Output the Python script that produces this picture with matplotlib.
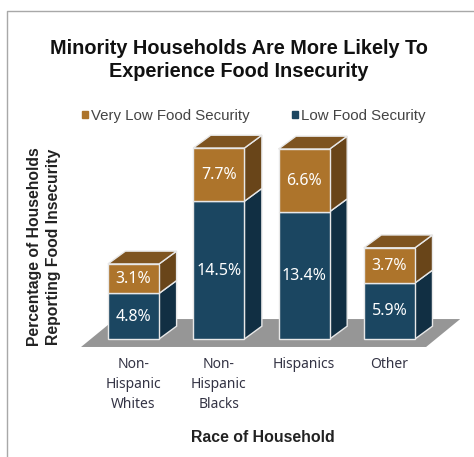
import matplotlib
matplotlib.use("Agg")
import matplotlib.pyplot as plt
from matplotlib.lines import Line2D
from matplotlib.patches import Patch

categories = ["Non-\nHispanic\nWhites", "Non-\nHispanic\nBlacks", "Hispanics", "Other"]
low_values = [4.8, 14.5, 13.4, 5.9]
# drawn height of the top block, the Blacks block is shorter than its label says
very_low_values = [3.1, 5.6, 6.6, 3.7]
low_labels = ["4.8%", "14.5%", "13.4%", "5.9%"]
very_low_labels = ["3.1%", "7.7%", "6.6%", "3.7%"]

W, H = 474, 457
ORANGE = "#AD742B"
ORANGE_TOP = "#7E5420"
ORANGE_SIDE = "#694519"
BLUE = "#1B4661"
BLUE_SIDE = "#112F43"
FLOOR = "#969696"
EDGE = "#E8E8E8"
label_font = "Noto Sans"
bold_font = "Liberation Sans"

fig = plt.figure(figsize=(W / 100, H / 100), dpi=100)
# axes box in pixels: x 80-460, y 130-350
ax = fig.add_axes([80 / W, 1 - 350 / H, 380 / W, 220 / H])
ax.set_xlim((80 - 133.5) / 85.3, (460 - 133.5) / 85.3)
ax.set_ylim(-11 / 9.5, 209 / 9.5)
ax.patch.set_alpha(0)
for s in ax.spines.values():
    s.set_visible(False)

bar_w = 0.6
dx, dy = 0.205, 1.35

# floor
ax.fill([-0.615, 3.43, 3.83, -0.215], [-0.84, -0.84, 2.1, 2.1], color=FLOOR, lw=0, zorder=1)


def side(x, y0, y1, color):
    r = x + bar_w / 2
    ax.fill([r, r + dx, r + dx, r], [y0, y0 + dy, y1 + dy, y1], facecolor=color,
            edgecolor=EDGE, lw=1, zorder=2)


for i in range(len(categories)):
    low = low_values[i]
    total = low + very_low_values[i]
    side(i, 0, low, BLUE_SIDE)
    side(i, low, total, ORANGE_SIDE)
    l = i - bar_w / 2
    ax.fill([l, l + bar_w, l + bar_w + dx, l + dx], [total, total, total + dy, total + dy],
            facecolor=ORANGE_TOP, edgecolor=EDGE, lw=1, zorder=2)
    ax.text(i, low / 2 - 0.05, low_labels[i], color="white", ha="center", va="center",
            fontsize=11.5, family=label_font, zorder=4)
    ax.text(i, low + very_low_values[i] / 2 - 0.05, very_low_labels[i], color="white", ha="center",
            va="center", fontsize=11.5, family=label_font, zorder=4)

x = range(len(categories))
ax.bar(x, low_values, bar_w, color=BLUE, edgecolor=EDGE, lw=1, zorder=3)
ax.bar(x, very_low_values, bar_w, bottom=low_values, color=ORANGE, edgecolor=EDGE, lw=1, zorder=3)

ax.set_yticks([])
ax.set_xticks(list(x))
ax.set_xticklabels(categories, fontsize=10, family=label_font, color="#333344", linespacing=1.45)
ax.tick_params(axis="x", length=0, pad=5)

fig.text(239 / W, 1 - 60 / H, "Minority Households Are More Likely To\nExperience Food Insecurity",
         ha="center", va="center", fontsize=14.35, fontweight="bold", family=bold_font,
         color="#111111", linespacing=1.25)
fig.text(44 / W, 1 - 247 / H, "Percentage of Households\nReporting Food Insecurity", rotation=90,
         ha="center", va="center", fontsize=11.3, fontweight="bold", family=bold_font,
         color="#222222", linespacing=1.33)
fig.text(262.5 / W, 1 - 437 / H, "Race of Household", ha="center", va="center", fontsize=11.4,
         fontweight="bold", family=bold_font, color="#222222")

handles = [Patch(color=ORANGE, label="Very Low Food Security"), Patch(color=BLUE, label="Low Food Security")]
fig.legend(handles=handles, loc="center", bbox_to_anchor=(254 / W, 1 - 116 / H), ncol=2, frameon=False,
           handlelength=0.4, handleheight=0.4, handletextpad=0.2, columnspacing=2.8,
           prop={"family": "Liberation Sans", "size": 10.8}, labelcolor="#444444")

# thin frame, cut off by the image at right and bottom
fig.add_artist(Line2D([7 / W, 7 / W, 1], [0, 1 - 11 / H, 1 - 11 / H], color="#A8A8A8", lw=1))

fig.savefig("out.png", dpi=100)
